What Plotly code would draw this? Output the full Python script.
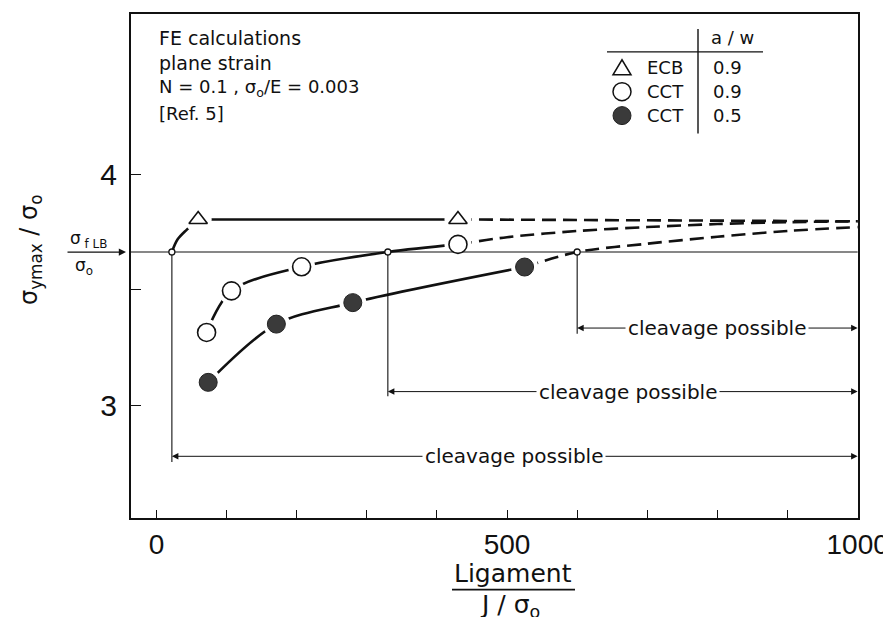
import plotly.graph_objects as go

# ---------------- data ----------------
ecb_x = [59.5, 430]
ecb_y = [3.805, 3.805]
cct09_x = [71.5, 107, 207, 430]
cct09_y = [3.316, 3.496, 3.600, 3.697]
cct05_x = [73.8, 171, 280, 525]
cct05_y = [3.100, 3.352, 3.445, 3.599]

ecb_knee_x = [22, 30, 43, 59.5]
ecb_knee_y = [3.664, 3.718, 3.760, 3.805]
ecb_flat_x = [59.5, 430]
ecb_flat_y = [3.805, 3.805]
ecb_dash_x = [430, 1000]
ecb_dash_y = [3.805, 3.797]

cct09_solid_x = [71.5, 107, 207, 330, 430]
cct09_solid_y = [3.316, 3.496, 3.600, 3.664, 3.697]
cct09_dash_x = [430, 500, 600, 700, 800, 900, 1000]
cct09_dash_y = [3.697, 3.728, 3.755, 3.772, 3.785, 3.793, 3.797]

cct05_solid_x = [73.8, 171, 280, 525]
cct05_solid_y = [3.100, 3.352, 3.445, 3.599]
cct05_dash_x = [525, 600, 700, 800, 900, 1000]
cct05_dash_y = [3.599, 3.664, 3.700, 3.730, 3.755, 3.772]

sigma_flb = 3.664
onset_x = [22, 330, 600]
range_y = [2.78, 3.06, 3.335]
drop_bottom = [2.755, 3.04, 3.31]
range_label_x = [510, 672, 800]
x_end = 1000

x_tickvals = [0, 100, 200, 300, 400, 500, 600, 700, 800, 900, 1000]
x_ticktext = ["0", "", "", "", "", "500", "", "", "", "", "1000"]
y_tickvals = [3, 3.5, 4]
y_ticktext = ["3", "", "4"]

legend_symbols = ["triangle", "open", "filled"]
legend_names = ["ECB", "CCT", "CCT"]
legend_aw = ["0.9", "0.9", "0.5"]

info_lines = ["FE calculations", "plane strain",
              "N = 0.1 , σ<sub>o</sub>/E = 0.003", "[Ref. 5]"]

FONT = "DejaVu Sans"
NUMFONT = "Liberation Sans"
BLACK = "#111111"
FILL = "#3a3a3a"

# ---------------- layout geometry (page pixels) ----------------
BODY = 8                      # default page margin of the html body
PAGE_W, PAGE_H = 891, 617
PL, PR, PT, PB = 131, 858, 12, 518   # plot box on the page
W, H = PAGE_W, PAGE_H
ML, MT = PL - BODY, PT - BODY
MR, MB = W - (PR - BODY), H - (PB - BODY)
PW, PH = PR - PL, PB - PT


def px2x(px):
    return (px - PL) / PW


def px2y(py):
    return (PB - py) / PH


fig = go.Figure()


def line(x, y, dash="solid", width=2.6, shape="spline", color=BLACK):
    fig.add_trace(go.Scatter(x=x, y=y, mode="lines", hoverinfo="skip",
                             line=dict(color=color, width=width, dash=dash,
                                       shape=shape, smoothing=0.9),
                             showlegend=False))


DASH = "14px,7px"
line(ecb_knee_x, ecb_knee_y)
line(ecb_flat_x, ecb_flat_y, shape="linear")
line(ecb_dash_x, ecb_dash_y, dash=DASH, shape="linear")
line(cct09_solid_x, cct09_solid_y)
line(cct09_dash_x, cct09_dash_y, dash=DASH)
line(cct05_solid_x, cct05_solid_y)
line(cct05_dash_x, cct05_dash_y, dash=DASH)

# white halos so curves stop short of the symbols
for xs, ys in [(ecb_x, ecb_y), (cct09_x, cct09_y), (cct05_x, cct05_y)]:
    fig.add_trace(go.Scatter(x=xs, y=ys, mode="markers", hoverinfo="skip",
                             marker=dict(size=27, color="white",
                                         line=dict(width=0)),
                             showlegend=False))

# sigma_fLB level line
fig.add_trace(go.Scatter(x=[-40, x_end], y=[sigma_flb, sigma_flb],
                         mode="lines", hoverinfo="skip",
                         line=dict(color=BLACK, width=1.2),
                         showlegend=False))

# drop lines from onset points
for xo, yb in zip(onset_x, drop_bottom):
    fig.add_trace(go.Scatter(x=[xo, xo], y=[sigma_flb, yb], mode="lines",
                             hoverinfo="skip",
                             line=dict(color=BLACK, width=1.1),
                             showlegend=False))

# symbols
fig.add_trace(go.Scatter(x=ecb_x, y=ecb_y, mode="markers", name="ECB 0.9",
                         marker=dict(symbol="triangle-up", size=16,
                                     color="white",
                                     line=dict(color=BLACK, width=1.6)),
                         showlegend=False))
fig.add_trace(go.Scatter(x=cct09_x, y=cct09_y, mode="markers",
                         name="CCT 0.9",
                         marker=dict(symbol="circle", size=18, color="white",
                                     line=dict(color=BLACK, width=1.6)),
                         showlegend=False))
fig.add_trace(go.Scatter(x=cct05_x, y=cct05_y, mode="markers",
                         name="CCT 0.5",
                         marker=dict(symbol="circle", size=18, color=FILL,
                                     line=dict(color="#222222", width=1)),
                         showlegend=False))
fig.add_trace(go.Scatter(x=onset_x, y=[sigma_flb] * len(onset_x),
                         mode="markers", hoverinfo="skip",
                         marker=dict(symbol="circle", size=6, color="white",
                                     line=dict(color=BLACK, width=1.3)),
                         showlegend=False))

annotations = []


def text(px, py, t, size=18, xanchor="center", family=FONT, **kw):
    annotations.append(dict(x=px2x(px), y=px2y(py), xref="paper",
                            yref="paper", text=t, showarrow=False,
                            xanchor=xanchor, yanchor="middle",
                            font=dict(family=family, size=size, color=BLACK),
                            **kw))


# range arrows "cleavage possible"
for xo, yr, xl in zip(onset_x, range_y, range_label_x):
    for tip in (xo, x_end):
        annotations.append(dict(x=tip, y=yr, ax=xl, ay=yr, axref="x",
                                ayref="y", xref="x", yref="y", text="",
                                showarrow=True, arrowhead=2, arrowsize=1.3,
                                arrowwidth=1, arrowcolor=BLACK, standoff=0))
for yr, xl in zip(range_y, range_label_x):
    annotations.append(dict(x=xl, y=yr, xref="x", yref="y",
                            xanchor="center", yanchor="middle",
                            text="cleavage possible", showarrow=False,
                            bgcolor="white", borderpad=2,
                            font=dict(family=FONT, size=20, color=BLACK)))

# info text block
for i, t in enumerate(info_lines):
    text(157, 36 + 25.3 * i, t, size=19 if i < 2 else 18, xanchor="left")

# legend table
text(732, 36, "a / w")
row_y = [66, 90, 114]
for ry, nm, aw in zip(row_y, legend_names, legend_aw):
    text(665, ry, nm)
    text(711, ry, aw, xanchor="left")

# sigma_fLB fraction label + arrow to axis
annotations.append(dict(x=px2x(126), y=px2y(251), xref="paper", yref="paper",
                        ax=-60, ay=0, axref="pixel", ayref="pixel",
                        text="", showarrow=True, arrowhead=2,
                        arrowsize=1.2, arrowwidth=1.2, arrowcolor=BLACK,
                        standoff=0))
text(88, 238, "σ<sub> f LB</sub>", size=17)
text(84, 266, "σ<sub>o</sub>", size=17)

# axis titles
text(30, 249, "σ<sub>ymax</sub> / σ<sub>o</sub>", size=24, textangle=-90)
text(513, 574, "Ligament", size=25)
text(510, 606, "J / σ<sub>o</sub>", size=25)

shapes = []


def hline(x0, x1, y, w=1.4):
    shapes.append(dict(type="line", xref="paper", yref="paper",
                       x0=px2x(x0), x1=px2x(x1), y0=px2y(y), y1=px2y(y),
                       line=dict(color=BLACK, width=w)))


hline(452, 575, 590, w=1.8)          # fraction bar under "Ligament"
hline(607, 763, 50)                  # legend table rules
shapes.append(dict(type="line", xref="paper", yref="paper",
                   x0=px2x(698), x1=px2x(698), y0=px2y(27), y1=px2y(132),
                   line=dict(color=BLACK, width=1.4)))
# legend symbols
for ry, sym in zip(row_y, legend_symbols):
    xa, ya = px2x(622), px2y(ry)
    if sym == "triangle":
        shapes.append(dict(type="path", xref="paper", yref="paper",
                           xsizemode="pixel", ysizemode="pixel",
                           xanchor=xa, yanchor=ya,
                           path="M -9,-7 L 9,-7 L 0,8 Z",
                           fillcolor="white",
                           line=dict(color=BLACK, width=1.5)))
    else:
        shapes.append(dict(type="circle", xref="paper", yref="paper",
                           xsizemode="pixel", ysizemode="pixel",
                           xanchor=xa, yanchor=ya, x0=-9, x1=9, y0=-9, y1=9,
                           fillcolor="white" if sym == "open" else FILL,
                           line=dict(color=BLACK if sym == "open" else "#222",
                                     width=1.5 if sym == "open" else 1)))

fig.update_layout(
    width=W, height=H,
    margin=dict(l=ML, r=MR, t=MT, b=MB, pad=0),
    paper_bgcolor="white", plot_bgcolor="white",
    font=dict(family=FONT, color=BLACK),
    annotations=annotations, shapes=shapes,
    xaxis=dict(range=[-36.3, 1000.5], tickmode="array", tickvals=x_tickvals,
               ticktext=x_ticktext, ticks="inside", ticklen=8, tickwidth=1.4,
               tickcolor=BLACK, showline=True, linecolor=BLACK, linewidth=2,
               mirror=True, showgrid=False, zeroline=False,
               ticklabeloverflow="allow",
               tickfont=dict(family=NUMFONT, size=28, color=BLACK)),
    yaxis=dict(range=[2.513, 4.694], tickmode="array", tickvals=y_tickvals,
               ticktext=y_ticktext, ticks="inside", ticklen=10, tickwidth=1.4,
               tickcolor=BLACK, showline=True, linecolor=BLACK, linewidth=2,
               mirror=True, showgrid=False, zeroline=False,
               ticklabelstandoff=6,
               tickfont=dict(family=NUMFONT, size=30, color=BLACK)),
)

fig.write_html("out.html")
